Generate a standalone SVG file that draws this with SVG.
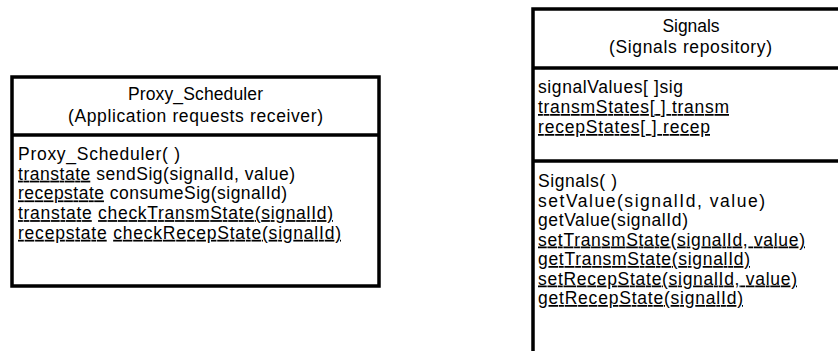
<svg xmlns="http://www.w3.org/2000/svg" width="838" height="351" viewBox="0 0 838 351">
<style>
.box{fill:#fff;stroke:#000;stroke-width:3.5}
.div{stroke:#000;stroke-width:3.5}
text{font-family:"Liberation Sans",Arial,sans-serif;font-size:17.5px;fill:#000}
.c{text-anchor:middle}
.u{text-decoration:underline}
</style>
<rect width="838" height="351" fill="#fff"/>
<g id="proxy_scheduler">
<rect class="box" x="12" y="77" width="367" height="209"/>
<line class="div" x1="12" y1="135" x2="379" y2="135"/>
<text class="c" x="195.5" y="100" textLength="135" lengthAdjust="spacing">Proxy_Scheduler</text>
<text class="c" x="195.5" y="121.5" textLength="255" lengthAdjust="spacing">(Application requests receiver)</text>
<text x="18" y="160" textLength="162" lengthAdjust="spacing">Proxy_Scheduler( )</text>
<text x="18" y="179.7" textLength="277" lengthAdjust="spacing"><tspan class="u">transtate</tspan> sendSig(signalId, value)</text>
<text x="18" y="199.4" textLength="269" lengthAdjust="spacing"><tspan class="u">recepstate</tspan> consumeSig(signalId)</text>
<text x="18" y="219.1" textLength="315" lengthAdjust="spacing"><tspan class="u">transtate</tspan> <tspan class="u">checkTransmState(signalId)</tspan></text>
<text x="18" y="238.8" textLength="323" lengthAdjust="spacing"><tspan class="u">recepstate</tspan> <tspan class="u">checkRecepState(signalId)</tspan></text>
</g>
<g id="signals">
<rect class="box" x="533" y="9" width="330" height="360"/>
<line class="div" x1="533" y1="68" x2="838" y2="68"/>
<line class="div" x1="533" y1="161" x2="838" y2="161"/>
<text class="c" x="691" y="32" textLength="57" lengthAdjust="spacing">Signals</text>
<text class="c" x="690.5" y="53" textLength="163" lengthAdjust="spacing">(Signals repository)</text>
<text x="538" y="93" textLength="145" lengthAdjust="spacing">signalValues[ ]sig</text>
<text class="u" x="538" y="113" textLength="191" lengthAdjust="spacing">transmStates[ ] transm</text>
<text class="u" x="538" y="133" textLength="172" lengthAdjust="spacing">recepStates[ ] recep</text>
<text x="538" y="187" textLength="79" lengthAdjust="spacing">Signals( )</text>
<text x="538" y="206.5" textLength="227" lengthAdjust="spacing">setValue(signalId, value)</text>
<text x="538" y="226" textLength="150" lengthAdjust="spacing">getValue(signalId)</text>
<text class="u" x="538" y="245.5" textLength="267" lengthAdjust="spacing">setTransmState(signalId, value)</text>
<text class="u" x="538" y="265" textLength="212" lengthAdjust="spacing">getTransmState(signalId)</text>
<text class="u" x="538" y="284.5" textLength="259" lengthAdjust="spacing">setRecepState(signalId, value)</text>
<text class="u" x="538" y="304" textLength="205" lengthAdjust="spacing">getRecepState(signalId)</text>
</g>
<g id="connectors"/>
</svg>
